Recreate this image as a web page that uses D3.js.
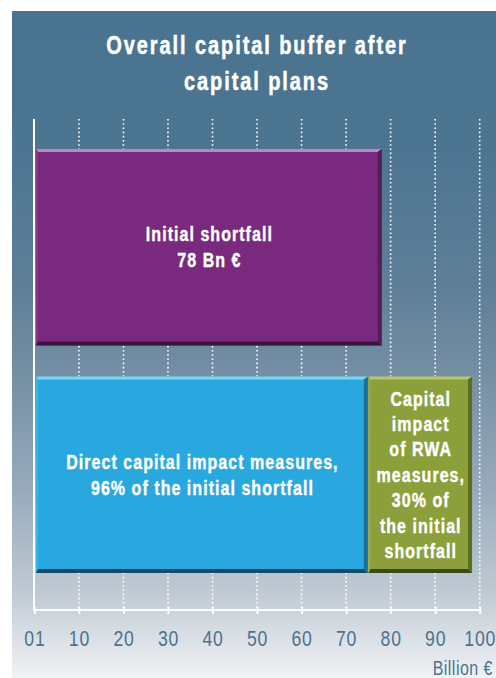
<!DOCTYPE html>
<html>
<head>
<meta charset="utf-8">
<script src="https://cdn.jsdelivr.net/npm/d3@7"></script>
<style>
  html, body { margin: 0; padding: 0; background: #ffffff; }
  svg { display: block; }
  text { font-family: 'Liberation Sans', Arial, sans-serif; }
</style>
</head>
<body>
<svg id="chart" width="496" height="678"></svg>
<script>
// ---- data ----
const titleLines = ["Overall capital buffer after", "capital plans"];
const initialShortfall = 78;            // Bn €
const directShare = 0.96;               // share of the initial shortfall
const rwaShare = 0.30;                  // share of the initial shortfall
const rows = ["initial", "measures"];
const tickValues = [0, 10, 20, 30, 40, 50, 60, 70, 80, 90, 100];
const tickLabels = ["01", "10", "20", "30", "40", "50", "60", "70", "80", "90", "100"];
const unitLabel = "Billion €";
const labelInitial = ["Initial shortfall", "78 Bn €"];
const labelDirect = ["Direct capital impact measures,", "96% of the initial shortfall"];
const labelRwa = ["Capital", "impact", "of RWA", "measures,", "30% of", "the initial", "shortfall"];

// segments built from the values above
const segments = [
  { row: "initial",  start: 0, value: initialShortfall, lines: labelInitial, theme: "purple" },
  { row: "measures", start: 0, value: initialShortfall * directShare, lines: labelDirect, theme: "blue" },
  { row: "measures", start: initialShortfall * directShare, value: initialShortfall * rwaShare, lines: labelRwa, theme: "green" }
];

const themes = {
  purple: { main: "#7a2a7e", top: "#b98abb", left: "#84387f", right: "#561c5a", bottom: "#3a1540" },
  blue:   { main: "#29a8e0", top: "#83d0f0", left: "#3bb2e4", right: "#1c6f97", bottom: "#164c66" },
  green:  { main: "#8ba03b", top: "#b3c47c", left: "#96aa48", right: "#5c6e22", bottom: "#3c4a19" }
};

// ---- layout ----
const W = 496, H = 678;
const plotTop = 119, plotBottom = 610;
const NARROW = 0.8;   // horizontal squeeze giving a condensed typeface look
const svg = d3.select("#chart");

// squeeze text horizontally about its anchor point
function condense(sel, k) {
  sel.each(function () {
    const t = d3.select(this);
    const tx = +t.attr("x") || 0, ty = +t.attr("y") || 0;
    t.attr("x", 0).attr("y", 0).attr("transform", `translate(${tx},${ty}) scale(${k},1)`);
  });
}

const x = d3.scaleLinear().domain([0, 100]).range([34.4, 479.7]);
const y = d3.scaleBand().domain(rows).range([149, 573]).paddingInner(0.1363).paddingOuter(0);

// background panel
const defs = svg.append("defs");
const grad = defs.append("linearGradient").attr("id", "bg").attr("x1", 0).attr("y1", 0).attr("x2", 0).attr("y2", 1);
[[0, "#4a7390"], [0.2, "#4c7592"], [0.42, "#5f7f98"], [0.55, "#7690a5"], [0.72, "#98abbc"], [0.87, "#bfc9d3"], [1, "#f1f3f5"]]
  .forEach(([o, c]) => grad.append("stop").attr("offset", o).attr("stop-color", c));
svg.append("rect").attr("x", 12).attr("y", 11).attr("width", W - 12).attr("height", H - 11).attr("fill", "url(#bg)");

// title
svg.append("g").selectAll("text").data(titleLines).join("text")
  .attr("x", 257).attr("y", (d, i) => 54 + i * 36)
  .attr("text-anchor", "middle")
  .attr("fill", "#ffffff").attr("font-size", 25).attr("font-weight", "bold")
  .attr("stroke", "#ffffff").attr("stroke-width", 0.5)
  .attr("letter-spacing", 2.4)
  .text(d => d)
  .call(condense, NARROW);

// dotted gridlines
svg.append("g").selectAll("line").data(tickValues.slice(1)).join("line")
  .attr("x1", d => x(d)).attr("x2", d => x(d))
  .attr("y1", plotTop).attr("y2", plotBottom)
  .attr("stroke", "#ffffff").attr("stroke-width", 1.6)
  .attr("stroke-dasharray", "1.6,2.6");

// bars with bevelled edges
const bars = svg.append("g").selectAll("g").data(segments).join("g");
bars.each(function (d) {
  const g = d3.select(this);
  const t = themes[d.theme];
  const x0 = x(d.start) + (d.start === 0 ? 1.6 : 0.6), x1 = x(d.start + d.value);
  const y0 = y(d.row), y1 = y(d.row) + y.bandwidth();
  const bt = 3, bs = 4, bb = 4, bl = 2;
  g.append("rect").attr("x", x0).attr("y", y0).attr("width", x1 - x0).attr("height", y1 - y0).attr("fill", t.main);
  const poly = pts => g.append("polygon").attr("points", pts.map(p => p.join(",")).join(" "));
  poly([[x0, y0], [x1, y0], [x1 - bs, y0 + bt], [x0 + bl, y0 + bt]]).attr("fill", t.top);
  poly([[x0, y0], [x0 + bl, y0 + bt], [x0 + bl, y1 - bb], [x0, y1]]).attr("fill", t.left);
  poly([[x1, y0], [x1, y1], [x1 - bs, y1 - bb], [x1 - bs, y0 + bt]]).attr("fill", t.right);
  poly([[x0, y1], [x1, y1], [x1 - bs, y1 - bb], [x0 + bl, y1 - bb]]).attr("fill", t.bottom);

  const cx = (x0 + x1) / 2, cy = (y0 + y1) / 2;
  const lh = d.lines.length > 2 ? 25.4 : 26;
  const firstBase = cy - (d.lines.length - 1) * lh / 2 + 7;
  g.append("g").selectAll("text").data(d.lines).join("text")
    .attr("x", cx + 0.5).attr("y", (s, i) => firstBase + i * lh)
    .attr("text-anchor", "middle")
    .attr("fill", "#ffffff").attr("font-size", 20).attr("font-weight", "bold")
    .attr("stroke", "#ffffff").attr("stroke-width", 0.4)
    .attr("letter-spacing", 1.3)
    .text(s => s)
    .call(condense, NARROW);
});

// axes
svg.append("line")
  .attr("x1", 34).attr("x2", 34).attr("y1", plotTop).attr("y2", plotBottom + 1)
  .attr("stroke", "#ffffff").attr("stroke-width", 2);

const xAxis = d3.axisBottom(x)
  .tickValues(tickValues)
  .tickFormat((d, i) => tickLabels[i])
  .tickSizeOuter(0).tickSizeInner(4).tickPadding(0);
const ax = svg.append("g").attr("transform", `translate(0,${plotBottom})`).call(xAxis);
ax.attr("font-family", null).attr("font-size", null);
ax.select(".domain").attr("stroke", "#ffffff").attr("stroke-width", 2).attr("d", `M${x(0) - 1.4},0H${x(100) + 1}`);
ax.selectAll(".tick line").attr("stroke", "#ffffff").attr("stroke-width", 2).attr("y1", -3).attr("y2", 4);
ax.selectAll(".tick text")
  .attr("y", 35.5).attr("dy", 0)
  .attr("fill", "#4b7390").attr("font-size", 22)
  .attr("letter-spacing", 1)
  .call(condense, NARROW);

svg.append("text")
  .attr("x", 493).attr("y", 675)
  .attr("text-anchor", "end")
  .attr("fill", "#4b7390").attr("font-size", 20)
  .attr("letter-spacing", 0.6)
  .text(unitLabel)
  .call(condense, NARROW);
</script>
</body>
</html>
